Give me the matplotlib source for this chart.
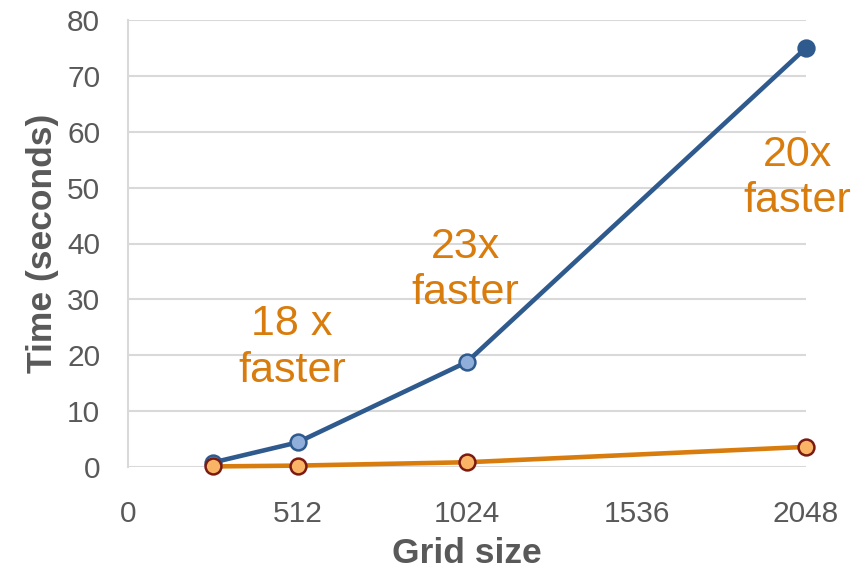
import numpy as np
import matplotlib
matplotlib.use('Agg')
import matplotlib.pyplot as plt

plt.rcParams['font.family'] = ['Liberation Sans', 'DejaVu Sans']

grid_sizes = [256, 512, 1024, 2048]
time_cpu = [0.8, 4.4, 18.8, 75.0]
time_gpu = [0.1, 0.25, 0.85, 3.6]
speedup_labels = ['18 x\nfaster', '23x\nfaster', '20x\nfaster']
label_pos = [(495, 21.4), (1018, 35.2), (2021, 51.7)]

x_ticks = [0, 512, 1024, 1536, 2048]
y_ticks = np.arange(0, 81, 10)

blue = '#2F5A8E'
blue_light = '#8FAEDA'
orange = '#D97C0E'
orange_light = '#F9B565'
maroon = '#7B1A12'
grey_txt = '#595959'

fig = plt.figure(figsize=(8.58, 5.68), dpi=100)
ax = fig.add_axes([128/858, 101/568, 678/858, 447/568])

ax.plot(grid_sizes, time_cpu, color=blue, lw=3.3, zorder=3, clip_on=False)
ax.scatter(grid_sizes[:-1], time_cpu[:-1], s=130, c=blue_light, edgecolors=blue,
           linewidths=1.8, zorder=4, clip_on=False)
ax.scatter(grid_sizes[-1:], time_cpu[-1:], s=130, c=blue, edgecolors=blue,
           linewidths=1.8, zorder=4, clip_on=False)

ax.plot(grid_sizes, time_gpu, color=orange, lw=3.3, zorder=5, clip_on=False)
ax.scatter(grid_sizes, time_gpu, s=130, c=orange_light, edgecolors=maroon,
           linewidths=1.8, zorder=6, clip_on=False)

for txt, (x, y) in zip(speedup_labels, label_pos):
    ax.text(x, y, txt, color=orange, fontsize=31,
            ha='center', va='center', linespacing=1.2)

ax.set_xlim(0, 2048)
ax.set_ylim(0, 80)
ax.set_xticks(x_ticks)
ax.set_yticks(y_ticks)
ax.tick_params(length=0, labelsize=21.5, labelcolor=grey_txt)
ax.tick_params(axis='x', pad=24)
ax.tick_params(axis='y', pad=20)
ax.grid(axis='y', color='#D9D9D9', lw=1.5)
ax.set_axisbelow(True)
for side in ['top', 'right', 'bottom']:
    ax.spines[side].set_visible(False)
ax.spines['left'].set_color('#D9D9D9')
ax.spines['left'].set_linewidth(1.5)

ax.set_xlabel('Grid size', fontsize=25.5, fontweight='bold', color=grey_txt, labelpad=6)
ax.set_ylabel('Time (seconds)', fontsize=25.5, fontweight='bold', color=grey_txt, labelpad=6)

fig.savefig('out.png', dpi=100)
